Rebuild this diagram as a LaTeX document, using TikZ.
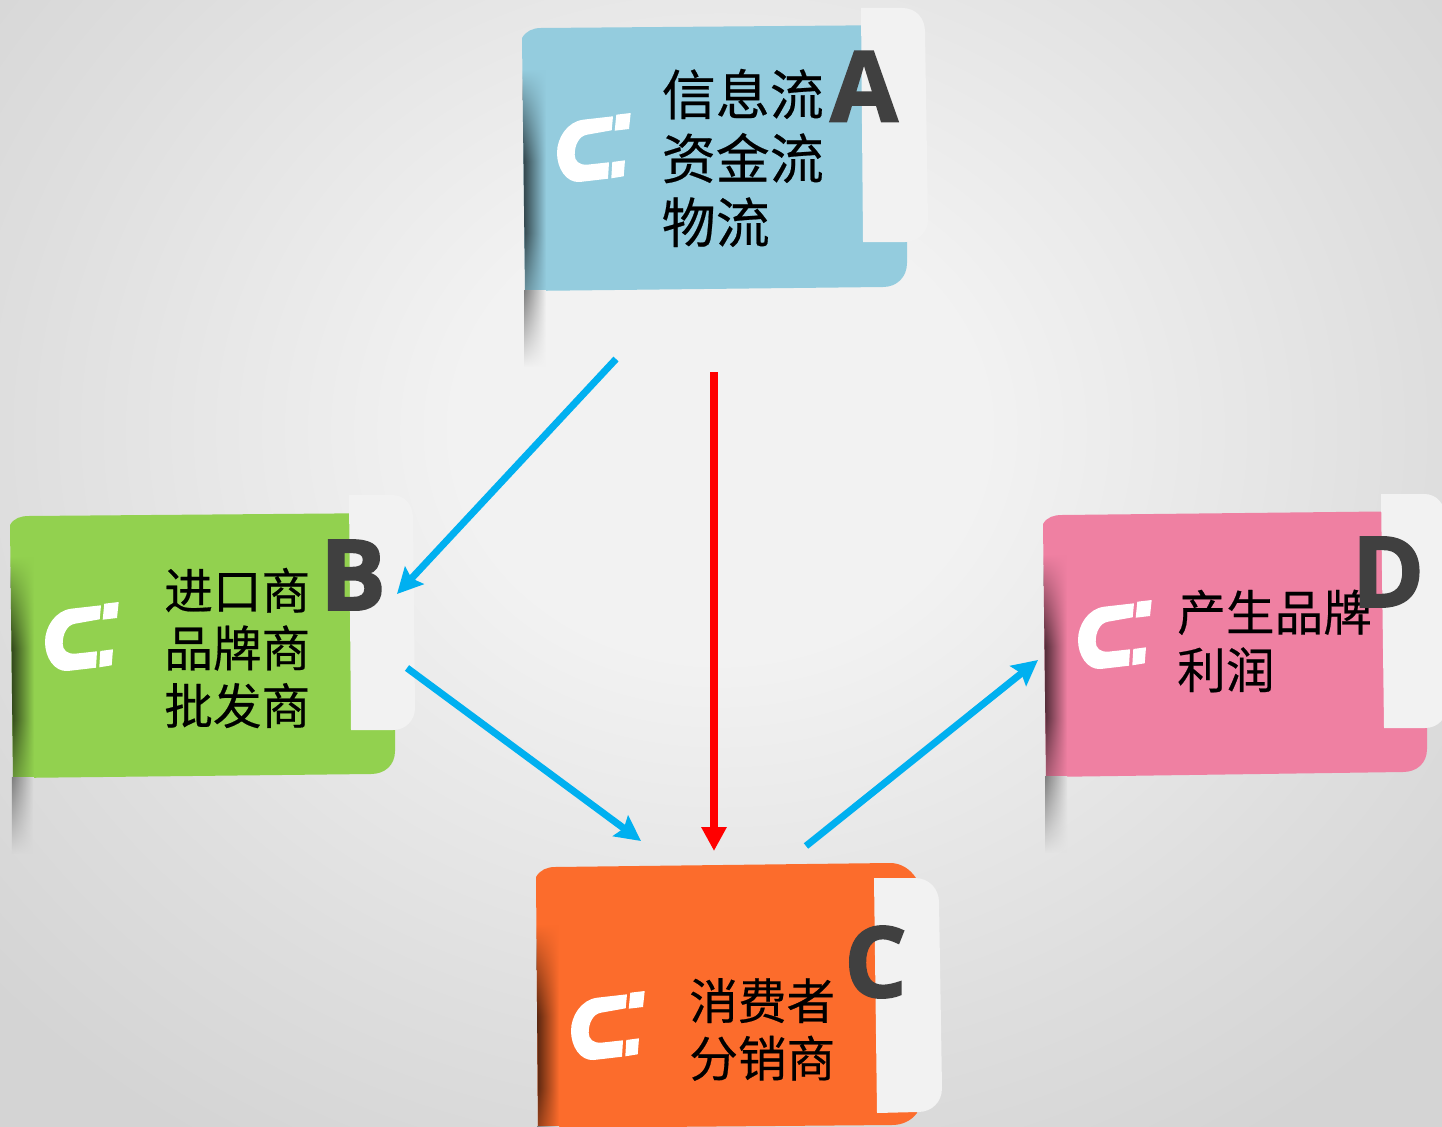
\documentclass[tikz,border=0pt]{standalone}
\usepackage{fontspec}
\newfontfamily\cjkfont[FakeBold=0.4]{Noto Sans CJK SC}
\newfontfamily\letterfont[BoldFeatures={FakeBold=2}]{Open Sans}
\usetikzlibrary{arrows.meta, fadings}

\definecolor{cardblue}{HTML}{94CCDE}
\definecolor{cardgreen}{HTML}{92D14F}
\definecolor{cardorange}{HTML}{FC6C2C}
\definecolor{cardpink}{HTML}{EF80A2}
\definecolor{tabgray}{HTML}{F2F2F2}
\definecolor{lettergray}{HTML}{404040}
\definecolor{flowblue}{HTML}{00B0F0}

\pgfdeclareradialshading{backglow}{\pgfpoint{0bp}{0bp}}{%
  color(0bp)=(tabgray); color(8bp)=(tabgray); color(15bp)=(black!9);
  color(22bp)=(black!13); color(30bp)=(black!17); color(50bp)=(black!17)}
\pgfdeclareverticalshading{edgeramp}{100bp}{%
  color(0bp)=(pgftransparent!100); color(25bp)=(pgftransparent!100); color(45bp)=(pgftransparent!0);
  color(58bp)=(pgftransparent!0); color(75bp)=(pgftransparent!100); color(100bp)=(pgftransparent!100)}
\pgfdeclarefading{edgefade}{\pgfuseshading{edgeramp}}

\tikzset{
  flow/.style={line width=5.25pt, color=flowblue, -{Stealth[length=19pt,width=19pt,inset=3pt]}},
  flowred/.style={line width=6pt, color=red, -{Stealth[length=18pt,width=18pt,inset=0pt]}},
  tabshape/.style={fill=tabgray},
  cardtext/.style={anchor=west, inner sep=0pt, align=left, text=black, font=\cjkfont\fontsize{36.5pt}{43.2pt}\selectfont},
  cardtextbig/.style={cardtext, font=\cjkfont\fontsize{40.5pt}{48pt}\selectfont},
  cardletter/.style={anchor=base, inner sep=0pt, text=lettergray, font=\letterfont\bfseries\fontsize{73.5pt}{73.5pt}\selectfont},
  magneticon/.pic={
    \fill[white] (56,-36.7) -- (26,-33.3) .. controls (10,-31) and (0,-15) .. (0,0)
      .. controls (0,15) and (9,30) .. (22.7,29) -- (51,25.7) -- (52,9.3) -- (30,11.7)
      .. controls (22,12) and (17.7,8) .. (17.7,1.7) .. controls (17.7,-8) and (22,-17) .. (30,-18.3)
      -- (54.7,-22.7) -- cycle;
    \fill[white] (59.3,-38.3) -- (73.7,-40) -- (72,-24) -- (57.7,-22.3) -- cycle;
    \fill[white] (55.3,9) -- (68,7.3) -- (66.7,23.3) -- (54.3,25.3) -- cycle;
  }
}

% #1 saved card path, #2 left edge x, #3 y of the dark part, #4 bottom y of the card, #5 card colour, #6 background
\newcommand\edgeshade[6]{
  \begin{scope}
    \clip[use path=#1];
    \shade[left color=#5!30!black, right color=#5, path fading=edgefade] (#2-2,#3-135) rectangle (#2+22,#3+135);
  \end{scope}
  \shade[left color=black!50, right color=#6, path fading=south] (#2,#4) rectangle (#2+22,#4+76);
}

\begin{document}
\begin{tikzpicture}[x=0.75pt,y=0.75pt,yscale=-1,xscale=1]
\useasboundingbox (0,0) rectangle (1442,1127);
\clip (0,0) rectangle (1442,1127);

%Background
\shade[shading=backglow] (-100,-280) rectangle (1540,1140);

%Card A
\path[save path=\pathA] (522,38) .. controls (526,31) and (533,28) .. (541,28) -- (907,25) -- (907,263) .. controls (907,277) and (897,287) .. (883,287) -- (525,291) -- cycle;
\fill[cardblue, use path=\pathA];
\edgeshade{\pathA}{524}{205}{291}{cardblue}{tabgray}
\fill[tabshape] (861,8) -- (902,8) .. controls (916,8) and (925,18) .. (925,32) -- (928,220) .. controls (928,232) and (918,242) .. (905,242) -- (863,242) -- cycle;
%Card B
\path[save path=\pathB] (10,525) .. controls (14,518) and (21,516) .. (29,516) -- (395,513) -- (395,751) .. controls (395,765) and (385,774) .. (371,774) -- (13,778) -- cycle;
\fill[cardgreen, use path=\pathB];
\edgeshade{\pathB}{12}{692}{778}{cardgreen}{black!13}
\fill[tabshape] (349,495) -- (392,495) .. controls (405,495) and (413,505) .. (413,518) -- (415,708) .. controls (415,720) and (406,730) .. (393,730) -- (351,730) -- cycle;
%Card C
\path[save path=\pathC] (536,877) .. controls (540,870) and (547,867) .. (555,867) -- (890,863) .. controls (901,863) and (910,869) .. (916,878) -- (917,1113) .. controls (911,1121) and (902,1125) .. (892,1125) -- (538,1128) -- cycle;
\fill[cardorange, use path=\pathC];
\edgeshade{\pathC}{537}{1060}{1127}{cardorange}{black!13}
\fill[tabshape] (874,878) -- (915,878) .. controls (929,878) and (939,889) .. (939,902) -- (942,1088) .. controls (942,1102) and (932,1112) .. (918,1112) -- (877,1113) -- cycle;
%Card D
\path[save path=\pathD] (1043,524) .. controls (1047,517) and (1054,515) .. (1062,515) -- (1427,511) -- (1427,749) .. controls (1427,763) and (1417,772) .. (1403,772) -- (1046,777) -- cycle;
\fill[cardpink, use path=\pathD];
\edgeshade{\pathD}{1045}{690}{777}{cardpink}{black!11}
\fill[tabshape] (1381,494) -- (1424,494) .. controls (1437,494) and (1445,504) .. (1445,517) -- (1447,706) .. controls (1447,718) and (1438,728) .. (1425,728) -- (1384,728) -- cycle;

%Magnets
\pic[yscale=-1] at (557,153) {magneticon};
\pic[yscale=-1] at (45,642) {magneticon};
\pic[yscale=-1] at (571,1031) {magneticon};
\pic[yscale=-1] at (1078,640) {magneticon};

% Text Node
\node[cardtextbig] (textA) at (661.5,158) {信息流\\资金流\\物流};
% Text Node
\node[cardtext] (textB) at (164,648) {进口商\\品牌商\\批发商};
% Text Node
\node[cardtext] (textC) at (689,1029.5) {消费者\\分销商};
% Text Node
\node[cardtext] (textD) at (1177,641) {产生品牌\\利润};
% Text Node
\node[cardletter] (letterA) at (864,121.5) {A};
% Text Node
\node[cardletter] (letterB) at (353,610) {B};
% Text Node
\node[cardletter] (letterC) at (875.5,997) {C};
% Text Node
\node[cardletter] (letterD) at (1388,607) {D};

%Straight Lines
\coordinate (startAB) at (616,359);
\coordinate (endAB) at (397,594);
\coordinate (startAC) at (714,372);
\coordinate (endAC) at (714,851);
\coordinate (startBC) at (407,668);
\coordinate (endBC) at (641,841);
\coordinate (startCD) at (806,846);
\coordinate (endCD) at (1038,660);
\draw[flow] (startAB) -- (endAB);
\draw[flowred] (startAC) -- (endAC);
\draw[flow] (startBC) -- (endBC);
\draw[flow] (startCD) -- (endCD);

\end{tikzpicture}
\end{document}
